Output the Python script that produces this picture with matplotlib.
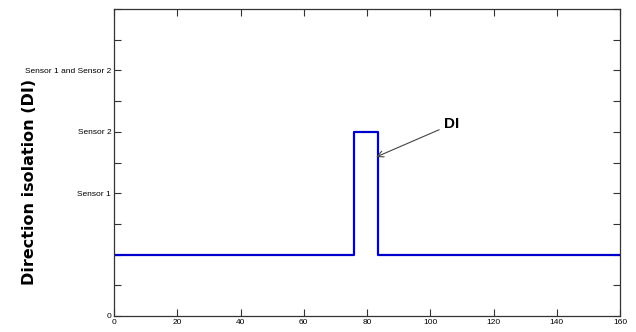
import matplotlib
matplotlib.use("Agg")
import matplotlib.pyplot as plt

# data
x_vals = [0, 76, 76, 83.5, 83.5, 160]
di_vals = [2, 2, 6, 6, 2, 2]
ytick_pos = [0, 1, 2, 3, 4, 5, 6, 7, 8, 9, 10]
ytick_lab = ["0", "", "", "", "Sensor 1", "", "Sensor 2", "", "Sensor 1 and Sensor 2", "", ""]
xtick_pos = [0, 20, 40, 60, 80, 100, 120, 140, 160]

tick_font = "Liberation Sans"

fig = plt.figure(figsize=(6.36, 3.32), dpi=100)
ax = fig.add_axes([114/636, 1-316/332, 506/636, 307/332])

ax.plot(x_vals, di_vals, color="#0000cc", lw=1.6)

ax.set_xlim(0, 160)
ax.set_ylim(0, 10)
ax.set_xticks(xtick_pos)
ax.set_xticklabels([str(v) for v in xtick_pos], family=tick_font, fontsize=6)
ax.set_yticks(ytick_pos)
ax.set_yticklabels(ytick_lab, family=tick_font, fontsize=6)
ax.tick_params(direction="in", length=5, width=0.8, color="#333333",
               top=True, right=True, pad=2)
for s in ax.spines.values():
    s.set_color("#333333")
    s.set_linewidth(0.9)

ax.annotate("DI", xy=(82.9, 5.18), xytext=(104.5, 6.25),
            fontsize=11, fontweight="bold", family=tick_font,
            va="center", ha="left",
            arrowprops=dict(arrowstyle="->", color="#444444", lw=0.8,
                            shrinkA=2, shrinkB=0))

fig.text(30/636, 1-182/332, "Direction isolation (DI)", rotation=90,
         fontsize=11.5, fontweight="bold", ha="center", va="center")

fig.savefig("out.png", dpi=100)
